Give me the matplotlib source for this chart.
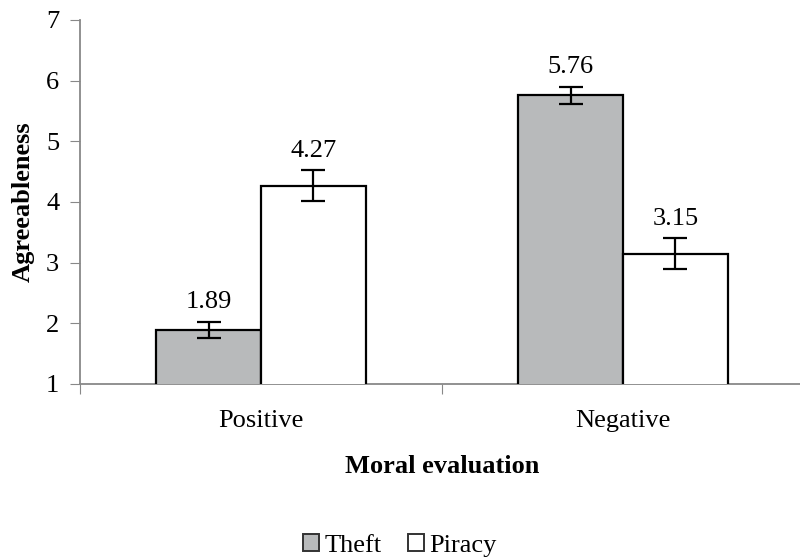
import numpy as np
import matplotlib.pyplot as plt

plt.rcParams['font.family'] = ['Liberation Serif', 'DejaVu Serif']

# grouped means with standard errors
categories = ['Positive', 'Negative']
theft = [1.89, 5.76]
piracy = [4.27, 3.15]
theft_err = [0.14, 0.14]
piracy_err = [0.25, 0.25]

fs = 19

fig = plt.figure(figsize=(8, 5.6), dpi=100)
ax = fig.add_axes([0.1, 0.3143, 0.905, 0.65])

x = np.arange(len(categories))
w = 0.29
kw = dict(edgecolor='black', linewidth=1.6, zorder=3)
ekw = dict(elinewidth=1.6, capthick=1.6, ecolor='black', capsize=8.5)

b1 = ax.bar(x - w / 2, theft, w, bottom=0, color='#b8babb', label='Theft', **kw)
b2 = ax.bar(x + w / 2, piracy, w, bottom=0, color='white', label='Piracy', **kw)
ax.errorbar(x - w / 2, theft, yerr=theft_err, fmt='none', zorder=4, **ekw)
ax.errorbar(x + w / 2, piracy, yerr=piracy_err, fmt='none', zorder=4, **ekw)

for xs, vals, errs in [(x - w / 2, theft, theft_err), (x + w / 2, piracy, piracy_err)]:
    for xi, v, e in zip(xs, vals, errs):
        ax.annotate(f'{v:.2f}', (xi, v + e), xytext=(0, 6), textcoords='offset points',
                    ha='center', va='bottom', fontsize=fs)

ax.set_xlim(-0.5, 1.5)
ax.set_ylim(1, 7)
ax.set_yticks(range(1, 8))
ax.set_xticks([-0.5, 0.5, 1.5])
ax.set_xticklabels([])
ax.set_xticks(x, minor=True)
ax.set_xticklabels(categories, minor=True)
ax.tick_params(axis='x', which='minor', length=0, labelsize=fs, pad=19)
ax.tick_params(axis='x', which='major', length=7, color='#888888')
ax.tick_params(axis='y', length=7, color='#888888', labelsize=fs, pad=8)

for s in ['top', 'right']:
    ax.spines[s].set_visible(False)
for s in ['left', 'bottom']:
    ax.spines[s].set_color('#888888')
    ax.spines[s].set_linewidth(1.3)

ax.set_ylabel('Agreeableness', fontsize=fs, fontweight='bold', labelpad=8)
ax.set_xlabel('Moral evaluation', fontsize=fs, fontweight='bold', labelpad=16)

leg = fig.legend(handles=[b1, b2], loc='center', bbox_to_anchor=(0.5, 0.026), ncol=2,
                 frameon=False, fontsize=fs, handlelength=0.6, handleheight=0.6,
                 handletextpad=0.2, columnspacing=1.0)
for h in leg.legend_handles:
    h.set_edgecolor('#333333')
    h.set_linewidth(1.4)

fig.savefig('out.png', dpi=100)
